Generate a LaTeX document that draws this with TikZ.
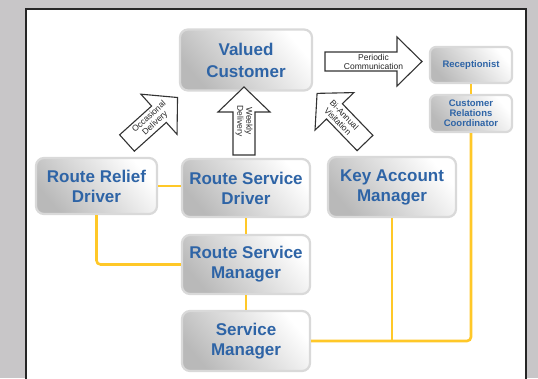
\documentclass[tikz,border=0pt]{standalone}
\usepackage{fontspec}
\setmainfont{Liberation Sans}
\definecolor{framegray}{RGB}{200,198,200}
\definecolor{boxblue}{RGB}{46,100,166}
\definecolor{linkgold}{RGB}{255,200,40}
\tikzset{
  rolebox/.style={rounded corners=8pt, draw=gray!30, line width=2.2pt,
    top color=white, bottom color=gray!55, shading angle=-50,
    text=boxblue, font=\fontsize{17}{20}\selectfont\bfseries,
    align=center, inner sep=0pt},
  smallbox/.style={rolebox, rounded corners=6pt, font=\fontsize{9.5}{10}\selectfont\bfseries},
  linkline/.style={linkgold, line width=2.6pt},
  blockline/.style={draw=black!80, fill=white, line width=1.1pt, line join=miter},
  arrowtext/.style={font=\fontsize{8.5}{9}\selectfont, align=center, inner sep=0pt, text=black!85}
}
% block arrow: name, tail, angle, length, shaft half, head half, text turn, text
\newcommand{\flowarrow}[8]{%
  \begin{scope}[shift={#2}, rotate=#3]
    \draw[blockline] (0,-#5) -- (#4-25,-#5) -- (#4-25,-#6) -- (#4,0)
      -- (#4-25,#6) -- (#4-25,#5) -- (0,#5) -- cycle;
    \node[arrowtext, transform shape, rotate=#7] (#1) at (#4/2,0) {#8};
  \end{scope}}
\begin{document}
\begin{tikzpicture}[x=1pt, y=-1pt]
\useasboundingbox (0,0) rectangle (538,378);
% frame
\fill[framegray] (0,0) rectangle (538,378);
\draw[line width=2.8pt, black!85, fill=white] (26,382) -- (26,9) -- (526,9) -- (526,382);

% boxes
\node[rolebox, minimum width=132pt, minimum height=61pt, font=\fontsize{17}{22}\selectfont\bfseries] (vc) at (246,60) {Valued\\Customer};
\node[smallbox, minimum width=82pt, minimum height=36pt] (rec) at (471,65) {Receptionist};
\node[smallbox, minimum width=82pt, minimum height=37pt] (crc) at (471,113.5) {Customer\\Relations\\Coordinator};
\node[rolebox, minimum width=121pt, minimum height=56pt] (rrd) at (96.5,186) {Route Relief\\Driver};
\node[rolebox, minimum width=128pt, minimum height=58pt] (rsd) at (246,188) {Route Service\\Driver};
\node[rolebox, minimum width=128pt, minimum height=60pt] (kam) at (392,187) {Key Account\\Manager};
\node[rolebox, minimum width=128pt, minimum height=59pt] (rsm) at (246,264.5) {Route Service\\Manager};
\node[rolebox, minimum width=128pt, minimum height=60pt] (sm) at (246,341) {Service\\Manager};

% links
\draw[linkline] (rrd.east) -- (rrd.east -| rsd.west);
\draw[linkline, rounded corners=4pt] (rrd.south) |- (rsm.west);
\draw[linkline] (rsd.south) -- (rsm.north);
\draw[linkline] (rsm.south) -- (sm.north);
\draw[linkline, rounded corners=4pt] (sm.east) -| (crc.south);
\draw[linkline] (kam.south) -- (kam.south |- sm.east);
\draw[linkline] (rec.south) -- (crc.north);

% block arrows
\flowarrow{occasional}{(127,143)}{42}{68}{11}{27}{0}{Occasional\\Delivery}
\flowarrow{weekly}{(244,155)}{90}{68}{11}{26}{180}{Weekly\\Delivery}
\flowarrow{biannual}{(365,143)}{134}{69}{11}{27}{180}{Bi-Annual\\Visitation}
\flowarrow{periodic}{(325,61.5)}{0}{97}{9.5}{24.5}{0}{Periodic\\Communication}
\end{tikzpicture}
\end{document}
